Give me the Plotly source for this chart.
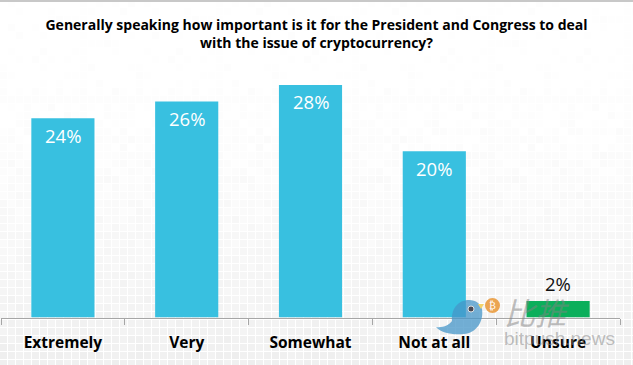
import plotly.graph_objects as go

categories = ["Extremely", "Very", "Somewhat", "Not at all", "Unsure"]
values = [24, 26, 28, 20, 2]
bar_labels = ["24%", "26%", "28%", "20%", "2%"]
bar_colors = ["#38C0E0", "#38C0E0", "#38C0E0", "#38C0E0", "#0BAF5B"]
label_offsets = [-17, -17, -17, -17, 17]
label_colors = ["white", "white", "white", "white", "#111111"]
title_text = ("Generally speaking how important is it for the President and Congress to deal"
              "<br>with the issue of cryptocurrency?")

# decorative mosaic backdrop: brightness of each 8px row, top to bottom, and a tile variation
row_shades = [255, 255, 255, 255, 255, 255, 255, 255, 255, 255, 255, 254, 254, 254, 254, 254,
              253, 253, 253, 252, 252, 252, 251, 251, 250, 250, 250, 249, 249, 248, 248, 247,
              247, 246, 246, 245, 245, 244, 244, 243, 242, 242, 241, 241, 240, 240]
tile_shift = [0, 2, -1, 1, 0, -1, 2, 0, 1, -1, 1, 0, -2, 1, 0, 2, -1]

mosaic = []
for r, shade in enumerate(row_shades):
    row = []
    for c in range(80):
        s = tile_shift[(c * 5 + r * 7 + c * r) % len(tile_shift)]
        row.append(min(255, shade + s))
    mosaic.append(row)

fig = go.Figure()
fig.add_trace(go.Heatmap(
    z=mosaic, x0=4, dx=8, y0=4, dy=8,
    zmin=0, zmax=255, showscale=False, hoverinfo="skip",
    xgap=1, ygap=1,
    colorscale=[[0, "#000000"], [1, "#ffffff"]],
    xaxis="x", yaxis="y",
))
fig.add_trace(go.Bar(
    x=categories, y=values, width=0.51,
    marker=dict(color=bar_colors, line=dict(width=0)),
    cliponaxis=False, xaxis="x2", yaxis="y2",
))

bird = ("M 436 327 C 443 328 449 325 452 321 C 451 309 458 300 469 300 "
        "C 476 300 481 304 482 309 C 484 322 476 333 464 334 C 452 335 441 333 436 327 Z")

value_labels = [
    dict(text=t, x=c, y=v, xref="x2", yref="y2", yshift=o, showarrow=False,
         font=dict(family="Open Sans", size=18.5, color=col))
    for t, c, v, o, col in zip(bar_labels, categories, values, label_offsets, label_colors)
]

fig.update_layout(
    width=633, height=365, autosize=False,
    margin=dict(l=0, r=0, t=0, b=0),
    paper_bgcolor="white", plot_bgcolor="rgba(0,0,0,0)",
    showlegend=False,
    title=dict(text=title_text, x=0.5, xanchor="center", y=0.917, yanchor="top",
               pad=dict(t=0),
               font=dict(family="Open Sans", size=14, color="#000000", weight=700)),
    xaxis=dict(domain=[0, 1], range=[0, 633], visible=False, fixedrange=True),
    yaxis=dict(domain=[0, 1], range=[365, 0], visible=False, fixedrange=True),
    xaxis2=dict(domain=[1 / 633, 620 / 633], anchor="y2", type="category",
                range=[-0.5, 4.5], tickson="boundaries", ticks="outside", ticklen=6,
                tickcolor="#A6A6A6", tickwidth=1, showline=True, linecolor="#A6A6A6",
                linewidth=1, showgrid=False, ticklabelstandoff=11, fixedrange=True,
                tickfont=dict(family="Open Sans", size=15.5, color="#000000", weight=700)),
    yaxis2=dict(domain=[47.5 / 365, 305 / 365], anchor="x2", range=[0, 31],
                visible=False, showgrid=False, fixedrange=True),
    shapes=[
        dict(type="rect", xref="paper", yref="paper", x0=0, x1=1, y0=363 / 365, y1=1,
             fillcolor="#C8C8C8", line=dict(width=0)),
        dict(type="path", path=bird, xref="x", yref="y", fillcolor="rgba(70,150,200,0.75)",
             line=dict(width=0), layer="above"),
        dict(type="path", path="M 478 304 L 484 304 L 481 309 Z", xref="x", yref="y",
             fillcolor="#F3D36B", line=dict(width=0), layer="above"),
        dict(type="circle", xref="x", yref="y", x0=468, x1=474, y0=306, y1=312,
             fillcolor="#4A4A55", line=dict(color="#E0E0E0", width=1), layer="above"),
        dict(type="circle", xref="x", yref="y", x0=485, x1=500, y0=298, y1=313,
             fillcolor="#EBA552", line=dict(width=0), layer="above"),
    ],
    annotations=value_labels + [
        dict(text="₿", x=492.5, y=305.5, xref="x", yref="y", showarrow=False,
             font=dict(family="DejaVu Sans", size=10, color="white")),
        dict(text="<i>比推</i>", x=537, y=311, xref="x", yref="y", showarrow=False,
             font=dict(family="Noto Sans CJK SC", size=31, color="rgba(130,130,130,0.5)")),
        dict(text="bitpush.news", x=559, y=338, xref="x", yref="y", showarrow=False,
             font=dict(family="Liberation Sans", size=19, color="rgba(130,130,130,0.5)")),
    ],
)

fig.write_html("out.html", config=dict(displayModeBar=False),
               post_script="document.body.style.margin='0';")
